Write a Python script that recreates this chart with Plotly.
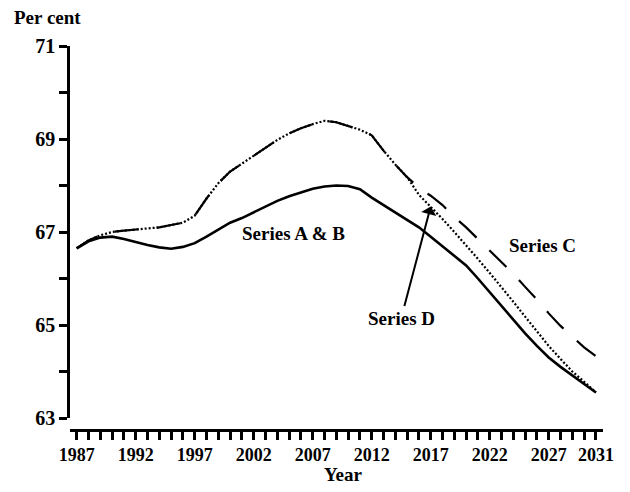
import plotly.graph_objects as go

years = list(range(1987, 2032))

series_ab = [66.65, 66.80, 66.88, 66.90, 66.85, 66.78, 66.72, 66.67, 66.64, 66.68,
             66.76, 66.90, 67.05, 67.20, 67.30, 67.42, 67.55, 67.67, 67.77, 67.85,
             67.93, 67.98, 68.00, 67.99, 67.92, 67.74, 67.58, 67.43, 67.27, 67.10,
             66.90, 66.70, 66.50, 66.28, 66.00, 65.70, 65.40, 65.10, 64.82, 64.55,
             64.30, 64.10, 63.92, 63.73, 63.55]

series_c = [66.65, 66.82, 66.93, 67.00, 67.03, 67.05, 67.07, 67.10, 67.15, 67.20,
            67.35, 67.72, 68.05, 68.30, 68.47, 68.64, 68.82, 68.98, 69.12, 69.23,
            69.32, 69.39, 69.36, 69.28, 69.20, 69.08, 68.75, 68.45, 68.18, 67.95,
            67.78, 67.58, 67.32, 67.10, 66.85, 66.60, 66.35, 66.10, 65.82, 65.55,
            65.25, 64.98, 64.75, 64.52, 64.33]

series_d = [66.65, 66.82, 66.93, 67.00, 67.03, 67.05, 67.07, 67.10, 67.15, 67.20,
            67.35, 67.72, 68.05, 68.30, 68.47, 68.64, 68.82, 68.98, 69.12, 69.23,
            69.32, 69.39, 69.36, 69.28, 69.20, 69.08, 68.75, 68.45, 68.18, 67.80,
            67.55, 67.28, 67.00, 66.72, 66.42, 66.12, 65.82, 65.50, 65.18, 64.86,
            64.55, 64.27, 64.00, 63.78, 63.55]

y_tick_vals = [63, 64, 65, 66, 67, 68, 69, 70, 71]
y_tick_text = ["63", "", "65", "", "67", "", "69", "", "71"]
x_label_years = [1987, 1992, 1997, 2002, 2007, 2012, 2017, 2022, 2027, 2031]

FONT = "Liberation Serif"

fig = go.Figure()
fig.add_trace(go.Scatter(x=years, y=series_d, mode="lines", name="Series D",
                         line=dict(color="black", width=2.2, dash="2px,2px")))
fig.add_trace(go.Scatter(x=years, y=series_c, mode="lines", name="Series C",
                         line=dict(color="black", width=2.2, dash="24px,18px")))
fig.add_trace(go.Scatter(x=years, y=series_ab, mode="lines", name="Series A & B",
                         line=dict(color="black", width=2.6)))

x_tick_text = [str(y) if y in x_label_years else "" for y in years]

# page body has an 8px margin, so the figure is drawn 8px smaller
fig.update_layout(
    width=622, height=484,
    margin=dict(l=62, r=27, t=38, b=62),
    paper_bgcolor="white", plot_bgcolor="white",
    showlegend=False,
    font=dict(family=FONT, color="black", size=18, weight="bold"),
    xaxis=dict(range=[1986.43, 2031.6], tickmode="array", tickvals=years,
               ticktext=x_tick_text, ticks="outside", ticklen=8, tickwidth=2.5,
               tickcolor="black", showline=True, linecolor="black", linewidth=2.5,
               showgrid=False, zeroline=False, anchor="free", position=0,
               tickfont=dict(family=FONT, size=18, weight="bold"),
               ticklabelstandoff=0),
    yaxis=dict(range=[63, 71], domain=[0.03125, 1], tickmode="array",
               tickvals=y_tick_vals, ticktext=y_tick_text, ticks="outside",
               ticklen=8, tickwidth=2.5, tickcolor="black", showline=True,
               linecolor="black", linewidth=2.5, showgrid=False, zeroline=False,
               tickfont=dict(family=FONT, size=20, weight="bold"),
               ticklabelstandoff=0),
)

ann_font = dict(family=FONT, size=19, color="black", weight="bold")
fig.add_annotation(text="Per cent", xref="paper", yref="paper",
                   x=(12 - 70) / 533, y=(430 - 18) / 384, xanchor="left",
                   yanchor="middle", showarrow=False, font=ann_font)
fig.add_annotation(text="Year", xref="paper", yref="paper",
                   x=(343 - 70) / 533, y=(430 - 474) / 384, xanchor="center",
                   yanchor="middle", showarrow=False, font=ann_font)
fig.add_annotation(text="Series A & B", x=2005.4, y=66.96, showarrow=False,
                   font=ann_font)
fig.add_annotation(text="Series C", x=2026.5, y=66.72, showarrow=False,
                   font=ann_font)
tip_year = 2017
fig.add_annotation(text="Series D", x=tip_year, y=series_d[years.index(tip_year)],
                   ax=2014.5, ay=65.15, axref="x", ayref="y",
                   showarrow=True, arrowhead=1, arrowsize=1.3, arrowwidth=2,
                   arrowcolor="black", standoff=0, startstandoff=0, font=ann_font)

fig.write_html("out.html")
